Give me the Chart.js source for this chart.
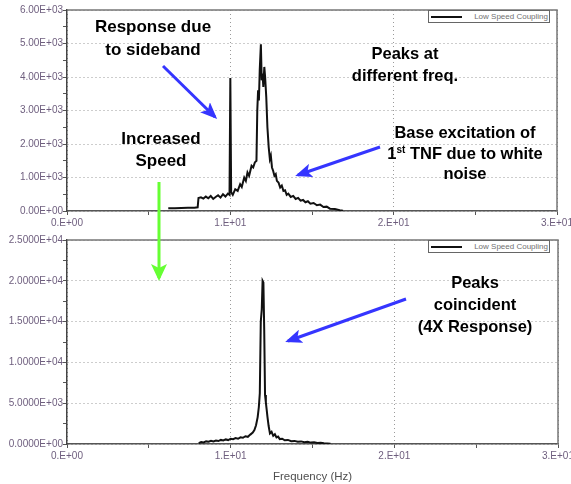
<!DOCTYPE html>
<html lang="en">
<head>
<meta charset="UTF-8" />
<title>Low Speed Coupling - speed increase</title>
<script src="https://cdn.jsdelivr.net/npm/chart.js"></script>
<style>
  body { margin: 0; background: #fff; font-family: 'Liberation Sans', Arial, sans-serif; }
  #page { position: relative; width: 571px; height: 484px; overflow: hidden; }
  canvas { position: absolute; left: 0; }
  #topChart { top: 0; }
  #bottomChart { top: 232px; }
  .note {
    position: absolute;
    font-weight: bold;
    font-size: 16.5px;
    line-height: 22px;
    color: #000;
    text-align: center;
    white-space: nowrap;
    transform: translateX(-50%);
  }
  .note sup { font-size: 10px; line-height: 0; }
  .legend {
    position: absolute;
    width: 119px;
    height: 11px;
    border: 1px solid #666;
    background: #fff;
    font-size: 8px;
    color: #707070;
    text-align: right;
    line-height: 11px;
    padding-right: 1px;
  }
  .legend span.sample {
    position: absolute;
    left: 2px;
    top: 5px;
    width: 31px;
    height: 2px;
    background: #111;
  }
  svg { position: absolute; left: 0; top: 0; pointer-events: none; }
</style>
</head>
<body>
<div id="page">
  <canvas id="topChart" width="571" height="232"></canvas>
  <canvas id="bottomChart" width="571" height="252"></canvas>

  <div class="legend" style="left:428px; top:10px;"><span class="sample"></span>Low Speed Coupling</div>
  <div class="legend" style="left:428px; top:240px;"><span class="sample"></span>Low Speed Coupling</div>

  <div class="note" style="left:153px; top:15px; font-size:17px; line-height:23px;">Response due<br>to sideband</div>
  <div class="note" style="left:161px; top:128px; font-size:17px;">Increased<br>Speed</div>
  <div class="note" style="left:405px; top:42px;">Peaks at<br>different freq.</div>
  <div class="note" style="left:465px; top:122px; line-height:20.5px;">Base excitation of<br>1<sup>st</sup> TNF due to white<br>noise</div>
  <div class="note" style="left:475px; top:271px;">Peaks<br>coincident<br>(4X Response)</div>

  <svg width="571" height="484">
    <defs>
      <marker id="headBlue" markerUnits="userSpaceOnUse" markerWidth="17" markerHeight="14" refX="14" refY="7" orient="auto">
        <path d="M0,0 L17,7 L0,14 L4,7 z" fill="#3535ff" />
      </marker>
      <marker id="headGreen" markerUnits="userSpaceOnUse" markerWidth="17" markerHeight="16" refX="14" refY="8" orient="auto">
        <path d="M0,0 L17,8 L0,16 L4,8 z" fill="#66ff33" />
      </marker>
    </defs>
    <line x1="163" y1="66" x2="215" y2="117" stroke="#3535ff" stroke-width="3" marker-end="url(#headBlue)" />
    <line x1="380" y1="147" x2="298" y2="175" stroke="#3535ff" stroke-width="3" marker-end="url(#headBlue)" />
    <line x1="406" y1="299" x2="288" y2="341" stroke="#3535ff" stroke-width="3" marker-end="url(#headBlue)" />
    <line x1="159" y1="182" x2="159" y2="278" stroke="#66ff33" stroke-width="3" marker-end="url(#headGreen)" />
  </svg>
</div>

<script>
  // tick labels as printed on the original plots
  const xTickLabels = ['0.E+00', '1.E+01', '2.E+01', '3.E+01'];
  const topYLabels = ['0.00E+00', '1.00E+03', '2.00E+03', '3.00E+03', '4.00E+03', '5.00E+03', '6.00E+03'];
  const bottomYLabels = ['0.0000E+00', '5.0000E+03', '1.0000E+04', '1.5000E+04', '2.0000E+04', '2.5000E+04'];
  const seriesName = 'Low Speed Coupling';

  // top plot: before speed increase (Hz, amplitude)
  const topFreq = [6.2, 6.6, 7.0, 7.4, 7.8, 8.0, 8.05, 8.2, 8.35, 8.5, 8.65, 8.8, 8.95, 9.1, 9.25, 9.4,
    9.55, 9.7, 9.85, 9.95, 10.0, 10.05, 10.15, 10.3, 10.45, 10.6, 10.7, 10.85, 10.95, 11.05, 11.15,
    11.3, 11.4, 11.5, 11.6, 11.65, 11.7, 11.75, 11.8, 11.87, 11.92, 11.97, 12.02, 12.08, 12.13, 12.2,
    12.27, 12.35, 12.42, 12.48, 12.55, 12.62, 12.7, 12.78, 12.85, 12.95, 13.05, 13.15, 13.25, 13.35,
    13.45, 13.55, 13.7, 13.85, 14.0, 14.15, 14.3, 14.45, 14.6, 14.75, 14.9, 15.1, 15.3, 15.5, 15.7,
    15.9, 16.1, 16.4, 16.7, 16.9];
  const topAmp = [80, 85, 90, 95, 100, 110, 390, 410, 370, 430, 380, 450, 360, 420, 470, 400,
    500, 430, 520, 480, 3970, 560, 480, 650, 600, 800, 720, 1000, 900, 1150, 1050,
    1350, 1300, 1450, 1500, 3000, 3600, 3300, 4200, 4980, 3900, 4100, 3700, 4300, 4000, 3400,
    2500, 1900, 1550, 1650, 1300, 1200, 1050, 1100, 900, 850, 700, 760, 600, 620,
    480, 520, 420, 450, 360, 390, 310, 330, 260, 290, 220, 240, 170, 190, 120,
    130, 70, 60, 25, 10];

  // bottom plot: after speed increase
  const bottomFreq = [8.05, 8.2, 8.35, 8.5, 8.65, 8.8, 8.95, 9.1, 9.25, 9.4, 9.55, 9.7, 9.85, 10.0,
    10.15, 10.3, 10.45, 10.6, 10.75, 10.9, 11.05, 11.2, 11.35, 11.45, 11.55, 11.65, 11.72, 11.78,
    11.84, 11.9, 11.95, 12.0, 12.05, 12.1, 12.15, 12.2, 12.25, 12.32, 12.4, 12.5, 12.6, 12.7, 12.8,
    12.9, 13.0, 13.15, 13.3, 13.5, 13.7, 13.9, 14.1, 14.3, 14.5, 14.7, 14.9, 15.1, 15.3, 15.5,
    15.7, 15.9, 16.1];
  const bottomAmp = [100, 250, 200, 320, 280, 380, 300, 420, 360, 500, 430, 560, 480, 650,
    580, 720, 640, 820, 760, 950, 880, 1150, 1400, 1700, 2300, 3300, 4500, 6200,
    15000, 16500, 20000, 19800, 14000, 6000, 5100, 4200, 3300, 2200, 1300, 1500, 1000, 1200, 800,
    900, 600, 650, 450, 500, 350, 380, 280, 320, 220, 260, 170, 200, 130, 150,
    90, 60, 30];

  const tickFont = { family: "'Liberation Sans', Arial, sans-serif", size: 10 };

  // top and right edges of the plot frame
  const framePlugin = {
    id: 'frame',
    afterDraw(chart) {
      const { ctx, chartArea: a } = chart;
      ctx.save();
      ctx.strokeStyle = '#777';
      ctx.lineWidth = 1.5;
      ctx.beginPath();
      ctx.moveTo(a.left, a.top);
      ctx.lineTo(a.right, a.top);
      ctx.lineTo(a.right, a.bottom);
      ctx.stroke();
      ctx.restore();
    }
  };

  function makeChart(id, freq, amp, yMax, yStep, yMajor, yLabels, pad, xHeight, showTitle) {
    const points = freq.map((f, i) => ({ x: f, y: amp[i] }));
    return new Chart(document.getElementById(id), {
      type: 'line',
      data: {
        datasets: [{
          label: seriesName,
          data: points,
          borderColor: '#111',
          borderWidth: 2,
          pointRadius: 0,
          tension: 0,
          fill: false
        }]
      },
      options: {
        responsive: false,
        animation: false,
        devicePixelRatio: 1,
        layout: { padding: pad },
        plugins: { legend: { display: false }, tooltip: { enabled: false } },
        scales: {
          x: {
            type: 'linear',
            min: 0,
            max: 30,
            afterFit(s) { s.height = xHeight; s.paddingLeft = 0; s.paddingRight = 0; },
            ticks: {
              stepSize: 5,
              autoSkip: false,
              maxRotation: 0,
              padding: 2,
              color: '#6e5e7e',
              font: tickFont,
              callback: v => (v % 10 === 0 ? xTickLabels[v / 10] : '')
            },
            grid: {
              color: c => (c.tick && c.tick.value % 10 === 0 ? '#9a9a9a' : 'rgba(0,0,0,0)'),
              tickColor: '#555',
              tickLength: 4
            },
            border: { color: '#555', width: 1.5, dash: [1, 3] },
            title: {
              display: showTitle,
              text: 'Frequency (Hz)',
              color: '#505050',
              font: { family: "'Liberation Sans', Arial, sans-serif", size: 11.5 },
              padding: 0
            }
          },
          y: {
            min: 0,
            max: yMax,
            afterFit(s) { s.width = 67; },
            ticks: {
              stepSize: yStep,
              autoSkip: false,
              padding: 0,
              color: '#6e5e7e',
              font: tickFont,
              callback: v => (v % yMajor === 0 ? yLabels[v / yMajor] : '')
            },
            grid: {
              color: c => (c.tick && c.tick.value % yMajor === 0 ? '#9a9a9a' : 'rgba(0,0,0,0)'),
              tickColor: '#555',
              tickLength: 4
            },
            border: { color: '#444', width: 1.5, dash: [1, 3] }
          }
        }
      },
      plugins: [framePlugin]
    });
  }

  makeChart('topChart', topFreq, topAmp, 6000, 500, 1000, topYLabels,
    { top: 10, right: 14, left: 0, bottom: 0 }, 21, false);
  makeChart('bottomChart', bottomFreq, bottomAmp, 25000, 2500, 5000, bottomYLabels,
    { top: 8, right: 13, left: 0, bottom: 0 }, 40, true);
</script>
</body>
</html>
